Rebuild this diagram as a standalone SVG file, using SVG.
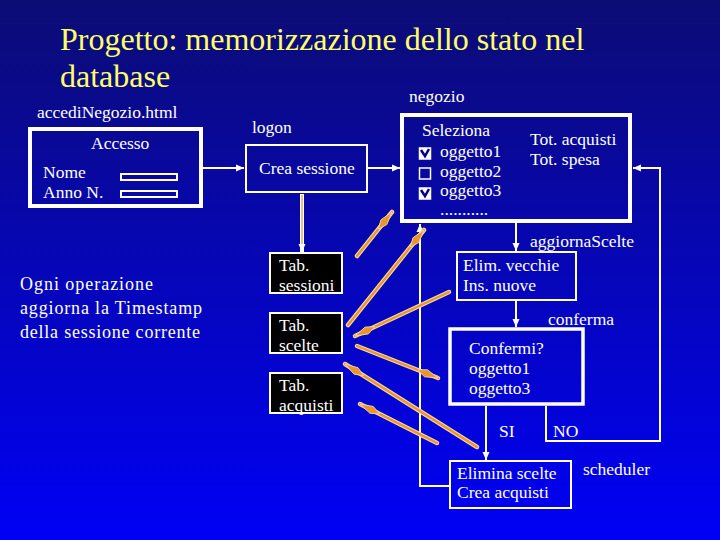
<svg xmlns="http://www.w3.org/2000/svg" width="720" height="540" viewBox="0 0 720 540">
<defs>
<linearGradient id="bg" x1="0" y1="0" x2="0" y2="1">
<stop offset="0" stop-color="#0c0c74"/>
<stop offset="0.5" stop-color="#0606b8"/>
<stop offset="1" stop-color="#0000f6"/>
</linearGradient>
<marker id="wa" markerUnits="userSpaceOnUse" markerWidth="9" markerHeight="8" refX="8" refY="4" orient="auto">
<path d="M0,0.5 L8,4 L0,7.5 Z" fill="#fff"/>
</marker>
<marker id="oa" markerUnits="userSpaceOnUse" markerWidth="24" markerHeight="10" refX="22" refY="5" orient="auto">
<path d="M0,5 L9,1.2 L22,5 L9,8.8 Z" fill="#e8952c" stroke="#f8d8a8" stroke-width="0.8"/>
</marker>
</defs>
<rect width="720" height="540" fill="url(#bg)"/>
<g id="title">
<text style="font-family:'Liberation Serif'" font-family="Times New Roman" font-size="32" fill="#ffff66" x="60" y="50">Progetto: memorizzazione dello stato nel</text>
<text style="font-family:'Liberation Serif'" font-family="Times New Roman" font-size="32" fill="#ffff66" x="60" y="87">database</text>
</g>
<g id="note">
<text style="font-family:'Liberation Serif'" font-family="Times New Roman" font-size="18" fill="#fff" x="20" y="290" textLength="133">Ogni operazione</text>
<text style="font-family:'Liberation Serif'" font-family="Times New Roman" font-size="18" fill="#fff" x="20" y="314" textLength="182">aggiorna la Timestamp</text>
<text style="font-family:'Liberation Serif'" font-family="Times New Roman" font-size="18" fill="#fff" x="20" y="338" textLength="180">della sessione corrente</text>
</g>
<g id="accesso">
<text style="font-family:'Liberation Serif'" font-family="Times New Roman" font-size="17.5" fill="#fff" x="37" y="118">accediNegozio.html</text>
<rect x="30" y="129" width="171" height="77" fill="none" stroke="#fff" stroke-width="4"/>
<text style="font-family:'Liberation Serif'" font-family="Times New Roman" font-size="17.5" fill="#fff" x="91" y="149">Accesso</text>
<text style="font-family:'Liberation Serif'" font-family="Times New Roman" font-size="17.5" fill="#fff" x="43" y="178">Nome</text>
<text style="font-family:'Liberation Serif'" font-family="Times New Roman" font-size="17.5" fill="#fff" x="43" y="198">Anno N.</text>
<rect x="121" y="174" width="56" height="6" fill="none" stroke="#fff" stroke-width="2"/>
<rect x="121" y="191" width="56" height="6" fill="none" stroke="#fff" stroke-width="2"/>
</g>
<g id="logon">
<text style="font-family:'Liberation Serif'" font-family="Times New Roman" font-size="17.5" fill="#fff" x="252" y="133">logon</text>
<rect x="246" y="145" width="121" height="47" fill="none" stroke="#fff" stroke-width="2"/>
<text style="font-family:'Liberation Serif'" font-family="Times New Roman" font-size="17.5" fill="#fff" x="259" y="174">Crea sessione</text>
</g>
<g id="negozio">
<text style="font-family:'Liberation Serif'" font-family="Times New Roman" font-size="17.5" fill="#fff" x="409" y="102">negozio</text>
<rect x="402" y="115" width="228" height="106" fill="none" stroke="#fff" stroke-width="4"/>
<text style="font-family:'Liberation Serif'" font-family="Times New Roman" font-size="17.5" fill="#fff" x="422" y="136">Seleziona</text>
<rect x="419.5" y="148" width="11" height="11" fill="#fff" stroke="#fff" stroke-width="1.5"/>
<path d="M421,150 L425,156 L429,149" fill="none" stroke="#00008a" stroke-width="2.5"/>
<rect x="419.5" y="168" width="11" height="11" fill="none" stroke="#fff" stroke-width="1.5"/>
<rect x="419.5" y="188" width="11" height="11" fill="#fff" stroke="#fff" stroke-width="1.5"/>
<path d="M421,190 L425,196 L429,189" fill="none" stroke="#00008a" stroke-width="2.5"/>
<text style="font-family:'Liberation Serif'" font-family="Times New Roman" font-size="17.5" fill="#fff" x="440" y="157">oggetto1</text>
<text style="font-family:'Liberation Serif'" font-family="Times New Roman" font-size="17.5" fill="#fff" x="440" y="177">oggetto2</text>
<text style="font-family:'Liberation Serif'" font-family="Times New Roman" font-size="17.5" fill="#fff" x="440" y="196">oggetto3</text>
<text style="font-family:'Liberation Serif'" font-family="Times New Roman" font-size="17.5" fill="#fff" x="440" y="215">...........</text>
<text style="font-family:'Liberation Serif'" font-family="Times New Roman" font-size="17.5" fill="#fff" x="530" y="145">Tot. acquisti</text>
<text style="font-family:'Liberation Serif'" font-family="Times New Roman" font-size="17.5" fill="#fff" x="530" y="165">Tot. spesa</text>
</g>
<g id="tab-sessioni">
<rect x="270" y="253" width="72" height="40" fill="#000" stroke="#fff" stroke-width="2"/>
<text style="font-family:'Liberation Serif'" font-family="Times New Roman" font-size="17.5" fill="#fff" x="279" y="271">Tab.</text>
<text style="font-family:'Liberation Serif'" font-family="Times New Roman" font-size="17.5" fill="#fff" x="279" y="291">sessioni</text>
</g>
<g id="tab-scelte">
<rect x="270" y="313" width="72" height="40" fill="#000" stroke="#fff" stroke-width="2"/>
<text style="font-family:'Liberation Serif'" font-family="Times New Roman" font-size="17.5" fill="#fff" x="279" y="331">Tab.</text>
<text style="font-family:'Liberation Serif'" font-family="Times New Roman" font-size="17.5" fill="#fff" x="279" y="351">scelte</text>
</g>
<g id="tab-acquisti">
<rect x="270" y="373" width="72" height="40" fill="#000" stroke="#fff" stroke-width="2"/>
<text style="font-family:'Liberation Serif'" font-family="Times New Roman" font-size="17.5" fill="#fff" x="279" y="391">Tab.</text>
<text style="font-family:'Liberation Serif'" font-family="Times New Roman" font-size="17.5" fill="#fff" x="279" y="411">acquisti</text>
</g>
<g id="aggiorna">
<text style="font-family:'Liberation Serif'" font-family="Times New Roman" font-size="17.5" fill="#fff" x="530" y="247">aggiornaScelte</text>
<rect x="457" y="252" width="119" height="48" fill="none" stroke="#fff" stroke-width="2"/>
<text style="font-family:'Liberation Serif'" font-family="Times New Roman" font-size="17.5" fill="#fff" x="463" y="271">Elim. vecchie</text>
<text style="font-family:'Liberation Serif'" font-family="Times New Roman" font-size="17.5" fill="#fff" x="463" y="291">Ins. nuove</text>
</g>
<g id="conferma">
<text style="font-family:'Liberation Serif'" font-family="Times New Roman" font-size="17.5" fill="#fff" x="548" y="325">conferma</text>
<rect x="450" y="329" width="133" height="75" fill="none" stroke="#fff" stroke-width="3.5"/>
<text style="font-family:'Liberation Serif'" font-family="Times New Roman" font-size="17.5" fill="#fff" x="469" y="354">Confermi?</text>
<text style="font-family:'Liberation Serif'" font-family="Times New Roman" font-size="17.5" fill="#fff" x="469" y="374">oggetto1</text>
<text style="font-family:'Liberation Serif'" font-family="Times New Roman" font-size="17.5" fill="#fff" x="469" y="394">oggetto3</text>
</g>
<g id="elimina">
<rect x="450" y="461" width="121" height="47" fill="none" stroke="#fff" stroke-width="2"/>
<text style="font-family:'Liberation Serif'" font-family="Times New Roman" font-size="17.5" fill="#fff" x="457" y="479">Elimina scelte</text>
<text style="font-family:'Liberation Serif'" font-family="Times New Roman" font-size="17.5" fill="#fff" x="457" y="498">Crea acquisti</text>
</g>
<g id="labels">
<text style="font-family:'Liberation Serif'" font-family="Times New Roman" font-size="17.5" fill="#fff" x="499" y="437">SI</text>
<text style="font-family:'Liberation Serif'" font-family="Times New Roman" font-size="17.5" fill="#fff" x="553" y="437">NO</text>
<text style="font-family:'Liberation Serif'" font-family="Times New Roman" font-size="17.5" fill="#fff" x="583" y="475">scheduler</text>
</g>
<g id="connectors" fill="none">
<path d="M203,168 H244" stroke="#fff" stroke-width="2" marker-end="url(#wa)"/>
<path d="M368,168 H400" stroke="#fff" stroke-width="2" marker-end="url(#wa)"/>
<path d="M546,406 V441 H660 V168 H633" stroke="#fff" stroke-width="2" marker-end="url(#wa)"/>
<path d="M516,223 V251" stroke="#fff" stroke-width="2" marker-end="url(#wa)"/>
<path d="M516,301 V327" stroke="#fff" stroke-width="2" marker-end="url(#wa)"/>
<path d="M486,406 V460" stroke="#fff" stroke-width="2" marker-end="url(#wa)"/>
<path d="M449,486 H420 V224" stroke="#fff" stroke-width="2" marker-end="url(#wa)"/>
<path d="M302,194 V252" stroke="#fff" stroke-width="4" marker-end="url(#wa)"/>
<path d="M302,195 V244" stroke="#e8952c" stroke-width="1.2"/>
<path d="M357,256 L392,212" stroke="#f6d6a6" stroke-width="4.5" stroke-linecap="round"/>
<path d="M357,256 L392,212" stroke="#e8952c" stroke-width="2.2" stroke-linecap="round" marker-end="url(#oa)"/>
<path d="M348,325 L424,230" stroke="#f6d6a6" stroke-width="4.5" stroke-linecap="round"/>
<path d="M348,325 L424,230" stroke="#e8952c" stroke-width="2.2" stroke-linecap="round" marker-end="url(#oa)"/>
<path d="M449,292 L355,336" stroke="#f6d6a6" stroke-width="4.5" stroke-linecap="round"/>
<path d="M449,292 L355,336" stroke="#e8952c" stroke-width="2.2" stroke-linecap="round" marker-end="url(#oa)"/>
<path d="M357,346 L438,378" stroke="#f6d6a6" stroke-width="4.5" stroke-linecap="round"/>
<path d="M357,346 L438,378" stroke="#e8952c" stroke-width="2.2" stroke-linecap="round" marker-end="url(#oa)"/>
<path d="M477,447 L345,364" stroke="#f6d6a6" stroke-width="4.5" stroke-linecap="round"/>
<path d="M477,447 L345,364" stroke="#e8952c" stroke-width="2.2" stroke-linecap="round" marker-end="url(#oa)"/>
<path d="M437,443 L360,404" stroke="#f6d6a6" stroke-width="4.5" stroke-linecap="round"/>
<path d="M437,443 L360,404" stroke="#e8952c" stroke-width="2.2" stroke-linecap="round" marker-end="url(#oa)"/>
</g>
</svg>
